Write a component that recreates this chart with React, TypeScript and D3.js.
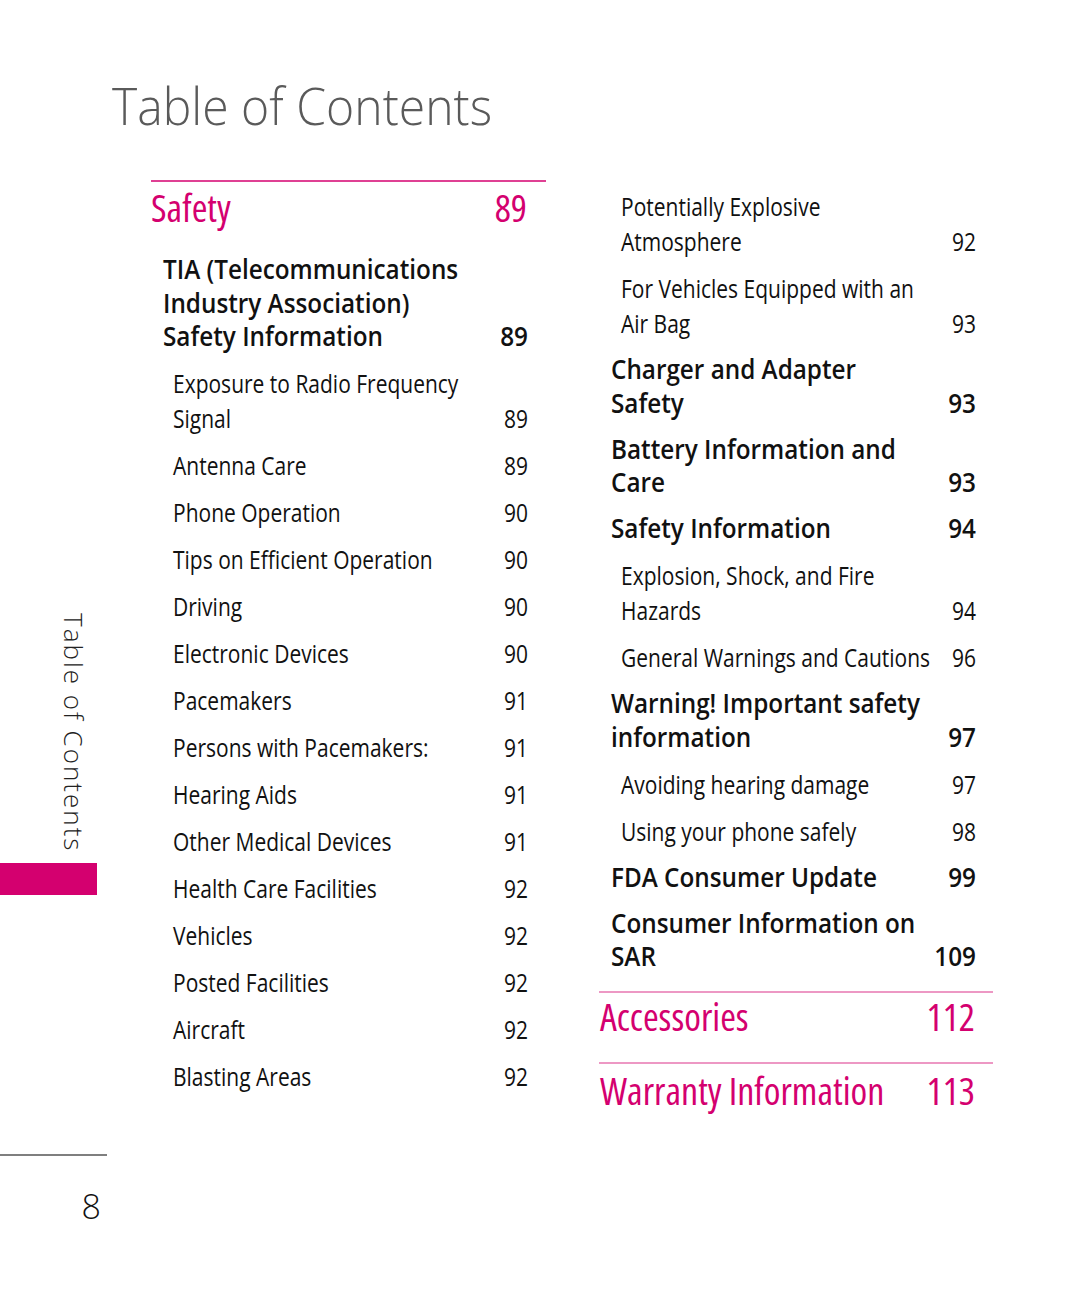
import React from "react";
import * as d3 from "d3";

// ---- data ----
const sectionTitles = ["Safety", "Accessories", "Warranty Information"];
const sectionPages = [89, 112, 113];

// Left column entries (level 1 = bold heading, level 2 = sub item)
const leftLabels: string[][] = [
  ["TIA (Telecommunications", "Industry Association)", "Safety Information"],
  ["Exposure to Radio Frequency", "Signal"],
  ["Antenna Care"],
  ["Phone Operation"],
  ["Tips on Efficient Operation"],
  ["Driving"],
  ["Electronic Devices"],
  ["Pacemakers"],
  ["Persons with Pacemakers:"],
  ["Hearing Aids"],
  ["Other Medical Devices"],
  ["Health Care Facilities"],
  ["Vehicles"],
  ["Posted Facilities"],
  ["Aircraft"],
  ["Blasting Areas"],
];
const leftPages = [89, 89, 89, 90, 90, 90, 90, 91, 91, 91, 91, 92, 92, 92, 92, 92];
const leftLevels = [1, 2, 2, 2, 2, 2, 2, 2, 2, 2, 2, 2, 2, 2, 2, 2];

const rightLabels: string[][] = [
  ["Potentially Explosive", "Atmosphere"],
  ["For Vehicles Equipped with an", "Air Bag"],
  ["Charger and Adapter", "Safety"],
  ["Battery Information and", "Care"],
  ["Safety Information"],
  ["Explosion, Shock, and Fire", "Hazards"],
  ["General Warnings and Cautions"],
  ["Warning! Important safety", "information"],
  ["Avoiding hearing damage"],
  ["Using your phone safely"],
  ["FDA Consumer Update"],
  ["Consumer Information on", "SAR"],
];
const rightPages = [92, 93, 93, 93, 94, 94, 96, 97, 97, 98, 99, 109];
const rightLevels = [2, 2, 1, 1, 1, 2, 2, 1, 2, 2, 1, 1];

const pageTitle = "Table of Contents";
const pageNumber = "8";

// ---- style ----
const MAGENTA = "#d4006f";
const FONT = "'Open Sans', 'Lato', sans-serif";
const LINE_H: Record<number, number> = { 1: 33.5, 2: 35 };
const GAP_BEFORE: Record<number, number> = { 1: 46, 2: 47 };
const SCALE_X: Record<number, number> = { 1: 0.9, 2: 0.84 };

type Laid = { lines: string[]; page: number; level: number; ys: number[] };

function layout(labels: string[][], pages: number[], levels: number[], startY: number): Laid[] {
  let y = startY;
  return labels.map((lines, i) => {
    const lv = levels[i];
    const ys = lines.map((_, k) => y + k * LINE_H[lv]);
    const next = levels[i + 1] ?? 2;
    y = ys[ys.length - 1] + GAP_BEFORE[next];
    return { lines, page: pages[i], level: lv, ys };
  });
}

function SText({ x, y, sx, anchor, style, children }: any) {
  return (
    <g transform={`translate(${x},${y}) scale(${sx},1)`}>
      <text x={0} y={0} textAnchor={anchor || "start"} style={style}>
        {children}
      </text>
    </g>
  );
}

function Column({ items, xBold, xSub, xRight }: { items: Laid[]; xBold: number; xSub: number; xRight: number }) {
  return (
    <g>
      {items.map((it, i) => {
        const bold = it.level === 1;
        const sx = SCALE_X[it.level];
        const style: React.CSSProperties = {
          fontFamily: FONT,
          fontSize: bold ? 27 : 25,
          fontWeight: bold ? 600 : 400,
          fill: "#111",
        };
        return (
          <g key={i}>
            {it.lines.map((ln, k) => (
              <SText key={k} x={bold ? xBold : xSub} y={it.ys[k] + 1} sx={sx} style={style}>
                {ln}
              </SText>
            ))}
            <SText x={xRight} y={it.ys[it.ys.length - 1] + 1} sx={sx} anchor="end" style={style}>
              {it.page}
            </SText>
          </g>
        );
      })}
    </g>
  );
}

export default function App() {
  const W = 1080;
  const H = 1295;
  const left = layout(leftLabels, leftPages, leftLevels, 278);
  const right = layout(rightLabels, rightPages, rightLevels, 215);
  const lastRight = right[right.length - 1];
  const rightEnd = lastRight.ys[lastRight.ys.length - 1];

  const secStyle: React.CSSProperties = {
    fontFamily: FONT,
    fontStretch: "condensed",
    fontSize: 38,
    fontWeight: 400,
    fill: MAGENTA,
  };

  const yLine1 = rightEnd + 27;
  const yAcc = rightEnd + 66;
  const yLine2 = rightEnd + 98;
  const yWar = rightEnd + 140;

  return (
    <svg width={W} height={H} style={{ display: "block", position: "absolute", left: 0, top: 0 }}>
      <rect x={0} y={0} width={W} height={H} fill="#fff" />
      {/* Title */}
      <SText x={112} y={125} sx={0.925} style={{ fontFamily: FONT, fontSize: 52, fontWeight: 300, fill: "#5a5a5a" }}>
        {pageTitle}
      </SText>

      {/* Safety section */}
      <line x1={151} x2={546} y1={181} y2={181} stroke={MAGENTA} strokeWidth={1.6} />
      <text x={151} y={222} style={secStyle}>{sectionTitles[0]}</text>
      <text x={527} y={222} textAnchor="end" style={secStyle}>{sectionPages[0]}</text>

      <Column items={left} xBold={163} xSub={173} xRight={528} />
      <Column items={right} xBold={611} xSub={621} xRight={976} />

      {/* Accessories */}
      <line x1={599} x2={993} y1={yLine1} y2={yLine1} stroke={MAGENTA} strokeWidth={1.2} opacity={0.8} />
      <text x={600} y={yAcc} style={secStyle}>{sectionTitles[1]}</text>
      <text x={975} y={yAcc} textAnchor="end" style={secStyle}>{sectionPages[1]}</text>

      {/* Warranty */}
      <line x1={599} x2={993} y1={yLine2} y2={yLine2} stroke={MAGENTA} strokeWidth={1.2} opacity={0.8} />
      <text x={600} y={yWar} style={secStyle}>{sectionTitles[2]}</text>
      <text x={975} y={yWar} textAnchor="end" style={secStyle}>{sectionPages[2]}</text>

      {/* Side tab */}
      <text
        transform={`translate(64,613) rotate(90)`}
        style={{ fontFamily: FONT, fontSize: 26, fontWeight: 300, fill: "#222", letterSpacing: 2.0 }}
      >
        {pageTitle}
      </text>
      <rect x={0} y={863} width={97} height={32} fill={MAGENTA} />

      {/* Footer */}
      <line x1={0} x2={107} y1={1155} y2={1155} stroke="#555" strokeWidth={1.5} />
      <text x={101} y={1219} textAnchor="end" style={{ fontFamily: FONT, fontSize: 34, fontWeight: 300, fill: "#111" }}>
        {pageNumber}
      </text>
    </svg>
  );
}
